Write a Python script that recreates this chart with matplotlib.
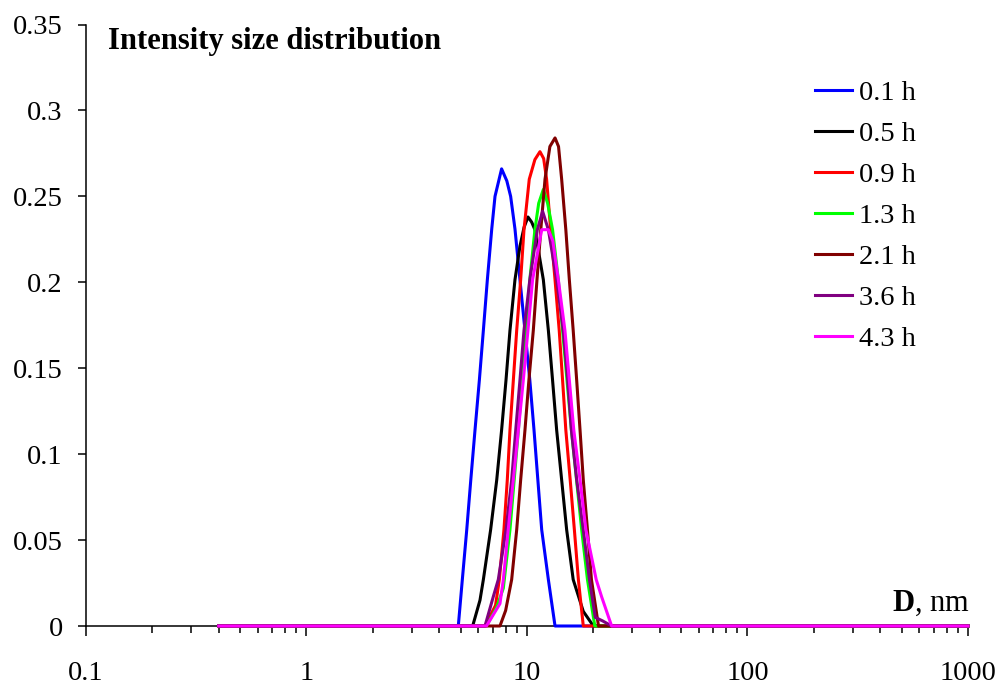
import numpy as np
import matplotlib
matplotlib.use("Agg")
import matplotlib.pyplot as plt
from matplotlib.ticker import LogLocator, FixedLocator, FixedFormatter, NullFormatter

plt.rcParams["font.family"] = ["Liberation Serif", "DejaVu Serif"]
plt.rcParams["mathtext.fontset"] = "custom"
plt.rcParams["mathtext.rm"] = "Liberation Serif"
plt.rcParams["mathtext.bf"] = "Liberation Serif:bold"

# size distributions (D in nm, intensity fraction)
d_01 = [0.4, 4.88, 5.09, 5.33, 5.56, 5.81, 6.08, 6.34, 6.61, 6.92, 7.16, 7.67, 8.1, 8.43,
        8.82, 9.29, 9.79, 10.3, 10.76, 11.2, 11.66, 12.5, 13.4, 1000]
i_01 = [0, 0, 0.027, 0.056, 0.085, 0.114, 0.143, 0.172, 0.2015, 0.231, 0.250, 0.266, 0.259, 0.250,
        0.231, 0.2015, 0.172, 0.143, 0.114, 0.085, 0.056, 0.027, 0, 0]

d_05 = [0.4, 5.67, 6.12, 6.34, 6.84, 7.29, 7.67, 8.03, 8.37, 8.82, 9.29, 9.7, 10.1, 10.5,
        10.86, 11.86, 12.5, 13.06, 13.63, 14.36, 15.13, 16.2, 18.0, 20.0, 1000]
i_05 = [0, 0, 0.015, 0.027, 0.056, 0.085, 0.114, 0.143, 0.172, 0.2015, 0.221, 0.232, 0.238, 0.235,
        0.2306, 0.2015, 0.172, 0.143, 0.114, 0.085, 0.056, 0.027, 0.0085, 0, 0]

d_09 = [0.4, 6.45, 7.2, 7.49, 7.86, 8.14, 8.37, 8.67, 8.98, 9.36, 9.69, 10.24, 10.86, 11.45,
        11.9, 12.27, 12.8, 13.4, 14.0, 14.5, 15.0, 15.7, 16.4, 17.1, 18.0, 1000]
i_09 = [0, 0, 0.012, 0.027, 0.056, 0.085, 0.114, 0.143, 0.172, 0.2015, 0.2306, 0.260, 0.2714, 0.276,
        0.272, 0.260, 0.2306, 0.2015, 0.172, 0.143, 0.114, 0.085, 0.056, 0.027, 0, 0]

d_13 = [0.4, 6.55, 7.29, 7.81, 8.37, 9.14, 9.9, 10.3, 10.86, 11.3, 11.86, 12.4, 13.06,
        13.87, 14.5, 15.9, 17.7, 18.8, 20.3, 1000]
i_13 = [0, 0, 0.011, 0.022, 0.056, 0.114, 0.172, 0.2015, 0.2306, 0.246, 0.254, 0.246, 0.2306,
        0.2015, 0.172, 0.114, 0.056, 0.027, 0, 0]

d_21 = [0.4, 7.54, 8.0, 8.52, 8.98, 9.36, 9.79, 10.2, 10.68, 11.1, 11.55, 12.07, 12.7, 13.4,
        13.9, 14.36, 15.0, 15.56, 16.2, 16.8, 17.4, 18.0, 18.8, 19.6, 21.1, 1000]
i_21 = [0, 0, 0.009, 0.027, 0.056, 0.085, 0.114, 0.143, 0.172, 0.2015, 0.2306, 0.260, 0.279, 0.284,
        0.279, 0.260, 0.2306, 0.2015, 0.172, 0.143, 0.114, 0.085, 0.056, 0.027, 0, 0]

d_36 = [0.4, 6.45, 7.03, 7.41, 8.03, 8.52, 8.89, 9.29, 9.69, 10.3, 11.14, 11.77, 12.5,
        13.63, 14.6, 15.3, 15.9, 16.8, 18.0, 19.2, 20.4, 22.0, 24.2, 1000]
i_36 = [0, 0, 0.017, 0.027, 0.056, 0.085, 0.114, 0.143, 0.172, 0.2015, 0.2306, 0.2413, 0.2306,
        0.2015, 0.172, 0.143, 0.114, 0.085, 0.056, 0.027, 0.005, 0.003, 0, 0]

d_43 = [0.4, 6.55, 7.54, 7.81, 8.22, 8.67, 9.14, 9.62, 10.1, 10.6, 10.95, 11.66, 12.5, 13.1,
        13.87, 14.86, 15.56, 16.3, 17.4, 18.5, 20.6, 21.8, 24.2, 1000]
i_43 = [0, 0, 0.013, 0.027, 0.056, 0.085, 0.114, 0.143, 0.172, 0.2015, 0.2112, 0.2306, 0.2306, 0.224,
        0.2015, 0.172, 0.143, 0.114, 0.085, 0.056, 0.027, 0.017, 0, 0]

labels = ["0.1 h", "0.5 h", "0.9 h", "1.3 h", "2.1 h", "3.6 h", "4.3 h"]
colors = ["#0000ff", "#000000", "#ff0000", "#00ff00", "#800000", "#800080", "#ff00ff"]
series = [(d_01, i_01), (d_05, i_05), (d_09, i_09), (d_13, i_13),
          (d_21, i_21), (d_36, i_36), (d_43, i_43)]

fig = plt.figure(figsize=(10.03, 6.87), dpi=100)
ax = fig.add_axes([86 / 1003, 1 - 626 / 687, 882 / 1003, 601.5 / 687])

for (d, inten), lab, col in zip(series, labels, colors):
    ax.plot(d, inten, color=col, lw=2.2, label=lab, zorder=3, clip_on=False,
            solid_joinstyle="round")

ax.set_xscale("log")
ax.set_xlim(0.1, 1000)
ax.set_ylim(0, 0.35)

ax.spines["top"].set_visible(False)
ax.spines["right"].set_visible(False)
for s in ("left", "bottom"):
    ax.spines[s].set_linewidth(1.1)

ax.xaxis.set_major_locator(FixedLocator([0.1, 1, 10, 100, 1000]))
ax.xaxis.set_major_formatter(FixedFormatter(["0.1", "1", "10", "100", "1000"]))
ax.xaxis.set_minor_locator(LogLocator(base=10, subs=np.arange(2, 10), numticks=20))
ax.xaxis.set_minor_formatter(NullFormatter())
yt = [0, 0.05, 0.1, 0.15, 0.2, 0.25, 0.3, 0.35]
ax.yaxis.set_major_locator(FixedLocator(yt))
ax.yaxis.set_major_formatter(FixedFormatter(["0", "0.05", "0.1", "0.15", "0.2", "0.25", "0.3", "0.35"]))

ax.tick_params(axis="x", which="major", direction="out", length=7.2, width=1.1, pad=18, labelsize=20.5)
ax.tick_params(axis="x", which="minor", direction="out", length=5, width=1.1)
ax.tick_params(axis="y", which="major", direction="out", length=5.8, width=1.1, pad=11, labelsize=20.5)

ax.text(0.025, 0.971, "Intensity size distribution", transform=ax.transAxes,
        fontsize=22, fontweight="bold", ha="left", va="center")
ax.text(1.002, 0.038, r"$\mathbf{D}$, nm", transform=ax.transAxes,
        fontsize=22, ha="right", va="center")

ax.legend(loc="upper left", bbox_to_anchor=(815 / 1003, 1 - 80 / 687), bbox_transform=fig.transFigure,
          frameon=False, fontsize=20.5, handlelength=1.3, handletextpad=0.25,
          labelspacing=0.53, borderpad=0, borderaxespad=0)

fig.savefig("out.png", dpi=100)
